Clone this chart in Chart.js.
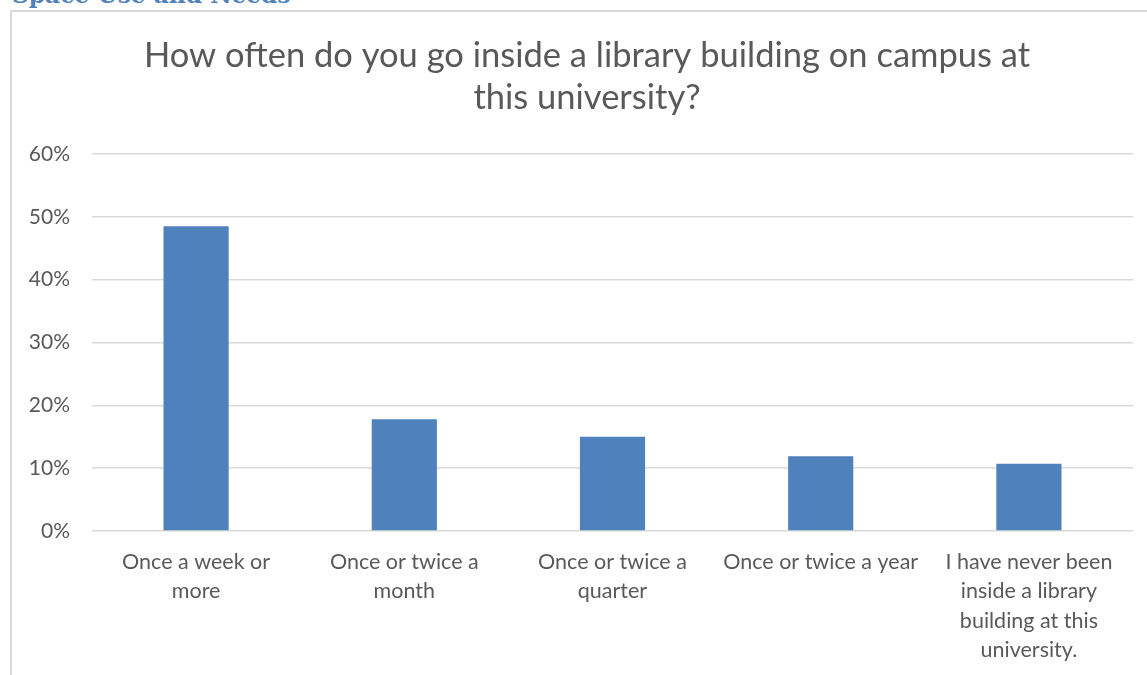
<!DOCTYPE html>
<html>
<head>
<meta charset="utf-8">
<script src="https://cdn.jsdelivr.net/npm/chart.js@4"></script>
<style>
  html, body { margin: 0; padding: 0; background: #fff; overflow: hidden; }
  body { width: 1147px; height: 675px; position: relative; }
  #section-head {
    position: absolute; left: 12px; top: -19px;
    font-family: "DejaVu Serif", serif; font-weight: bold; font-size: 23.3px;
    color: #4f81bd; white-space: nowrap;
  }
  #frame {
    position: absolute; left: 10px; top: 10px; width: 1154px; height: 680px;
    border-left: 2px solid #d9d9d9; border-top: 2px solid #d9d9d9;
  }
  #chart-box { position: absolute; left: 10px; top: 10px; width: 1154px; height: 665px; }
</style>
</head>
<body>
<div id="section-head">Space Use and Needs</div>
<div id="frame"></div>
<div id="chart-box"><canvas id="chart"></canvas></div>
<script>
'use strict';

// CHART DATA
let chartTitle = ['How often do you go inside a library building on campus at', 'this university?'];
let categories = [
  ['Once a week or', 'more'],
  ['Once or twice a', 'month'],
  ['Once or twice a', 'quarter'],
  'Once or twice a year',
  ['I have never been', 'inside a library', 'building at this', 'university.']
];
let percentValues = [48.5, 17.8, 15.0, 11.9, 10.7];
let yTicks = [0, 10, 20, 30, 40, 50, 60];

const TEXT_GREY = '#595959';
const GRID_GREY = '#d9d9d9';
const BAR_BLUE = '#4f81bd';
const FONT = 'Lato, "Open Sans", sans-serif';

// builds the chart
function renderChart() {
  const ctx = document.getElementById('chart');

  new Chart(ctx, {
    type: 'bar',
    data: {
      labels: categories,
      datasets: [{
        data: percentValues,
        backgroundColor: BAR_BLUE,
        borderWidth: 0,
        categoryPercentage: 1,
        barPercentage: 0.313
      }]
    },
    options: {
      responsive: true,
      maintainAspectRatio: false,
      animation: false,
      layout: { padding: 0 },
      plugins: {
        legend: { display: false },
        tooltip: { enabled: false },
        title: {
          display: true,
          text: chartTitle,
          color: TEXT_GREY,
          font: { family: FONT, size: 34.5, weight: 'normal', lineHeight: 1.217 },
          padding: { top: 25, bottom: 35 }
        }
      },
      scales: {
        x: {
          grid: { display: false, drawTicks: false },
          border: { display: false },
          ticks: {
            color: TEXT_GREY,
            font: { family: FONT, size: 21.5, lineHeight: 1.35 },
            padding: 17,
            maxRotation: 0,
            autoSkip: false
          },
          afterFit: function (scale) { scale.height = 144; }
        },
        y: {
          min: 0,
          max: 60,
          border: { display: false },
          grid: { color: GRID_GREY, lineWidth: 1.5, drawTicks: false },
          afterBuildTicks: function (scale) {
            scale.ticks = yTicks.map(v => ({ value: v }));
          },
          ticks: {
            color: TEXT_GREY,
            font: { family: FONT, size: 21 },
            padding: 22,
            callback: v => v + '%'
          },
          afterFit: function (scale) { scale.width = 82; }
        },
        // empty right-hand strip, only there so the plot stops short of the frame
        // while the title stays centred on the whole frame
        yRight: {
          position: 'right',
          display: true,
          grid: { display: false, drawTicks: false },
          border: { display: false },
          ticks: { display: false },
          afterFit: function (scale) { scale.width = 31; }
        }
      }
    }
  });
}

renderChart();
</script>
</body>
</html>
